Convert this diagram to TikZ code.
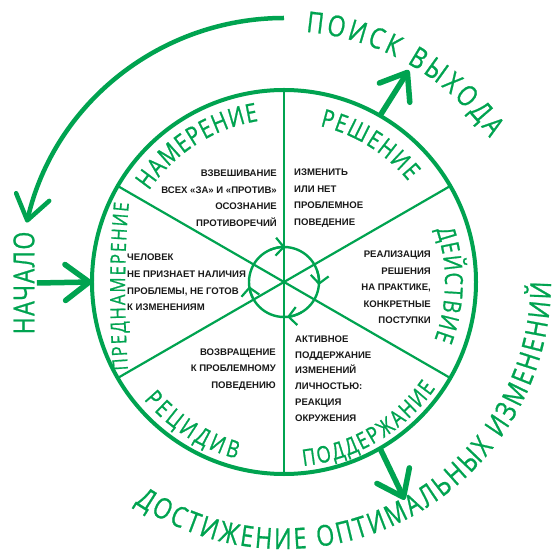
\documentclass[tikz,border=0pt]{standalone}
\usepackage{fontspec}
\setmainfont{Liberation Sans}
\newfontfamily\hand[FakeStretch=0.8, FakeBold=0.8]{Open Sans}
\usetikzlibrary{arrows.meta,decorations.text}
\definecolor{grn}{RGB}{0,163,80}
\tikzset{
  body/.style={font=\bfseries\fontsize{9.6}{16.6}\selectfont, inner sep=0pt, text=black!90},
  rim/.style={circle, draw=grn, line width=4bp, inner sep=0pt, outer sep=0pt},
  spoke/.style={draw=grn, line width=2.2bp},
  bigarrow/.style={draw=grn, line width=5.5bp, -{Straight Barb[length=24bp,width=36bp,round]}},
  arcarrow/.style={draw=grn, line width=4.5bp, -{Straight Barb[length=24bp,width=34bp,round]}},
  hubarrow/.style={draw=grn, line width=2.2bp, -{Straight Barb[length=8bp,width=18bp]}},
  htext/.style 2 args={decorate, decoration={text along path, text={|\hand\fontsize{#1}{#1}\selectfont|#2}, text color=grn, text align={fit to path}}}
}
\begin{document}
\begin{tikzpicture}[x=1bp,y=1bp]
\useasboundingbox (-284,-276) rectangle (274,282);
% wheel
\node[rim, minimum size=384bp] (wheel) at (0,0) {};
\foreach \a in {90,30,-30,-90,-150,150} \draw[spoke] (wheel.center) -- (wheel.\a);
\node[rim, line width=2.4bp, minimum size=70bp] (hub) at (0,0) {};
\foreach \a in {88,-5,-85,187} \draw[hubarrow] ({\a+25}:35) arc[start angle={\a+25}, end angle=\a, radius=35bp];
% body texts
\node[body, align=right, anchor=east] (tl) at (-7,84) {ВЗВЕШИВАНИЕ\\ВСЕХ «ЗА» И «ПРОТИВ»\\ОСОЗНАНИЕ\\ПРОТИВОРЕЧИЙ};
\node[body, align=left, anchor=west] (tr) at (10,84) {ИЗМЕНИТЬ\\ИЛИ НЕТ\\ПРОБЛЕМНОЕ\\ПОВЕДЕНИЕ};
\node[body, align=right, anchor=east] (rt) at (147,-5.5) {РЕАЛИЗАЦИЯ\\РЕШЕНИЯ\\НА ПРАКТИКЕ,\\КОНКРЕТНЫЕ\\ПОСТУПКИ};
\node[body, align=left, anchor=west] (lt) at (-157,-0.5) {ЧЕЛОВЕК\\НЕ ПРИЗНАЕТ НАЛИЧИЯ\\ПРОБЛЕМЫ, НЕ ГОТОВ\\К ИЗМЕНЕНИЯМ};
\node[body, align=right, anchor=east] (bl) at (-8,-87.5) {ВОЗВРАЩЕНИЕ\\К ПРОБЛЕМНОМУ\\ПОВЕДЕНИЮ};
\node[body, align=left, anchor=west, font=\bfseries\fontsize{9.6}{15.8}\selectfont] (br) at (11,-96.5) {АКТИВНОЕ\\ПОДДЕРЖАНИЕ\\ИЗМЕНЕНИЙ\\ЛИЧНОСТЬЮ:\\РЕАКЦИЯ\\ОКРУЖЕНИЯ};
% inner hand labels
\path[htext={26}{НАМЕРЕНИЕ}] (146:163) arc[start angle=146, end angle=99, radius=163bp];
\path[htext={25}{РЕШЕНИЕ}] (77:160) arc[start angle=77, end angle=39, radius=160bp];
\path[htext={25}{ДЕЙСТВИЕ}] (19:161) arc[start angle=19, end angle=-21, radius=161bp];
\path[htext={23}{ПОДДЕРЖАНИЕ}] (-84:185) arc[start angle=-84, end angle=-35, radius=185bp];
\path[htext={24}{РЕЦИДИВ}] (-140:183) arc[start angle=-140, end angle=-105, radius=183bp];
\path[htext={21}{ПРЕДНАМЕРЕНИЕ}] (-156,-88) .. controls (-160,-30) and (-160,30) .. (-155,79);
% outer labels
\path[htext={29}{ПОИСК ВЫХОДА}] (85:251) arc[start angle=85, end angle=35, radius=251bp];
\path[htext={29}{ДОСТИЖЕНИЕ ОПТИМАЛЬНЫХ ИЗМЕНЕНИЙ}] (-124:267) arc[start angle=-124, end angle=0, radius=267bp];
\node[rotate=90, text=grn, font=\hand\fontsize{29}{29}\selectfont\addfontfeature{LetterSpace=5}, inner sep=2bp] (start) at (-260,-1) {НАЧАЛО};
% arrows
\coordinate (outA) at (59.5:246);
\coordinate (outB) at (-61:249);
\coordinate (arcS) at (90:264);
\draw[bigarrow] (wheel.60) -- (outA);
\draw[bigarrow] (wheel.-60) -- (outB);
\draw[bigarrow] (start.south) -- (wheel.180);
\draw[arcarrow] (arcS) arc[start angle=90, end angle=167, radius=264bp];
\end{tikzpicture}
\end{document}
